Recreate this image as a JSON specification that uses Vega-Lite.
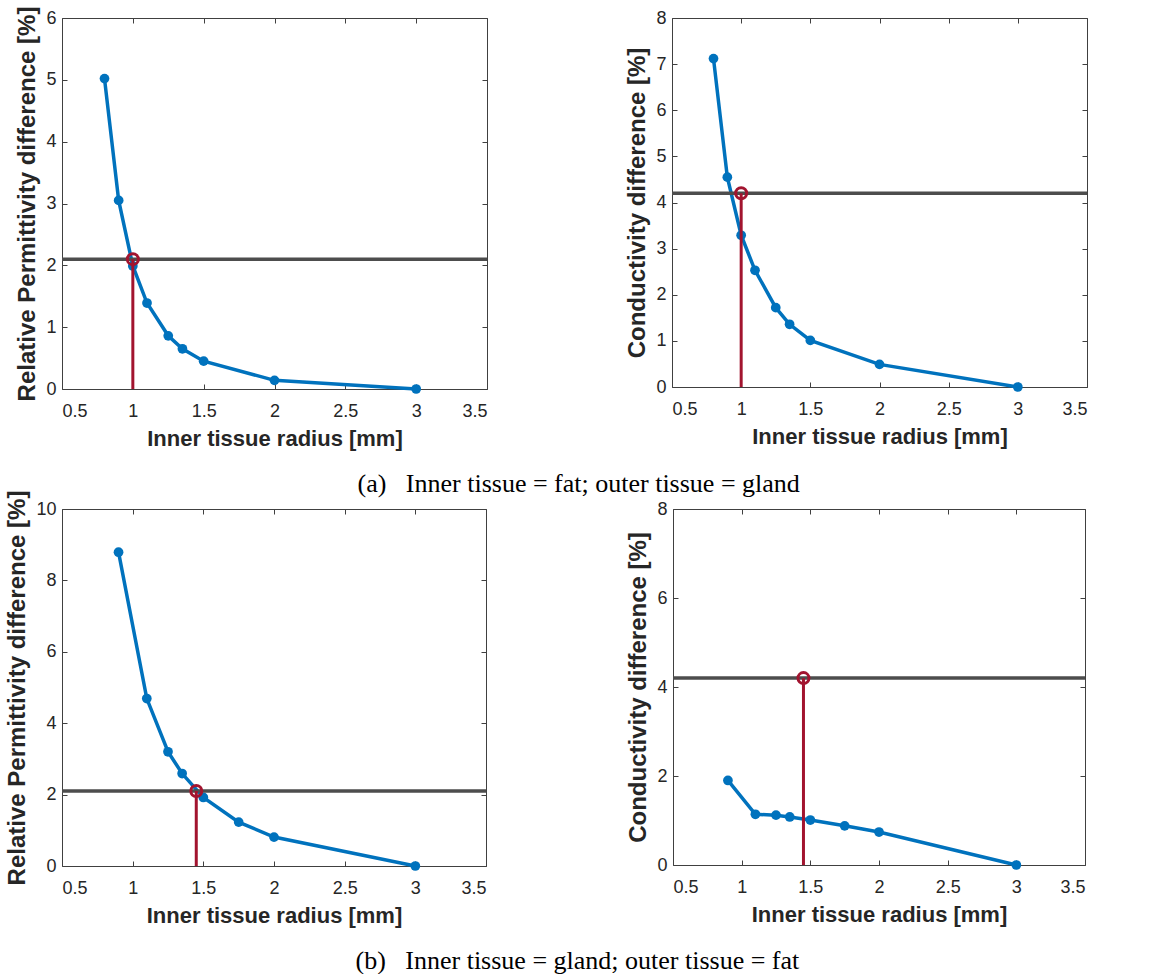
{
  "$schema": "https://vega.github.io/schema/vega-lite/v6.json",
  "background": "white",
  "padding": {"left": 5, "top": 5, "right": 0, "bottom": 0},
  "columns": 1,
  "align": "none",
  "spacing": -8,
  "datasets": {
    "a_perm": [
      {"radius": 0.8, "diff": 5.02}, {"radius": 0.9, "diff": 3.05}, {"radius": 1.0, "diff": 1.99},
      {"radius": 1.1, "diff": 1.39}, {"radius": 1.25, "diff": 0.86}, {"radius": 1.35, "diff": 0.65},
      {"radius": 1.5, "diff": 0.45}, {"radius": 2.0, "diff": 0.14}, {"radius": 3.0, "diff": 0.0}
    ],
    "a_cond": [
      {"radius": 0.8, "diff": 7.12}, {"radius": 0.9, "diff": 4.55}, {"radius": 1.0, "diff": 3.29},
      {"radius": 1.1, "diff": 2.53}, {"radius": 1.25, "diff": 1.72}, {"radius": 1.35, "diff": 1.36},
      {"radius": 1.5, "diff": 1.01}, {"radius": 2.0, "diff": 0.49}, {"radius": 3.0, "diff": 0.0}
    ],
    "b_perm": [
      {"radius": 0.9, "diff": 8.79}, {"radius": 1.1, "diff": 4.69}, {"radius": 1.25, "diff": 3.2},
      {"radius": 1.35, "diff": 2.59}, {"radius": 1.5, "diff": 1.92}, {"radius": 1.75, "diff": 1.23},
      {"radius": 2.0, "diff": 0.81}, {"radius": 3.0, "diff": 0.0}
    ],
    "b_cond": [
      {"radius": 0.9, "diff": 1.9}, {"radius": 1.1, "diff": 1.14}, {"radius": 1.25, "diff": 1.12},
      {"radius": 1.35, "diff": 1.08}, {"radius": 1.5, "diff": 1.01}, {"radius": 1.75, "diff": 0.88},
      {"radius": 2.0, "diff": 0.74}, {"radius": 3.0, "diff": 0.0}
    ],
    "a_perm_cut": [{"radius": 1.0, "low": 0, "threshold": 2.1}],
    "a_cond_cut": [{"radius": 1.0, "low": 0, "threshold": 4.2}],
    "b_perm_cut": [{"radius": 1.45, "low": 0, "threshold": 2.1}],
    "b_cond_cut": [{"radius": 1.45, "low": 0, "threshold": 4.2}]
  },
  "concat": [
    {
      "title": {"text": "(a)\u00a0\u00a0\u00a0Inner tissue = fat; outer tissue = gland", "orient": "bottom", "anchor": "start", "dx": 342},
      "spacing": 135,
      "hconcat": [
        {
          "width": 425, "height": 371,
          "layer": [
            {"data": {"name": "a_perm"}, "mark": {"type": "line", "color": "#0072BD", "strokeWidth": 3.5, "point": {"filled": true, "size": 95, "color": "#0072BD"}},
             "encoding": {
               "x": {"field": "radius", "type": "quantitative", "scale": {"domain": [0.5, 3.5], "nice": false, "zero": false}, "axis": {"values": [0.5,1,1.5,2,2.5,3,3.5], "format": "~g", "title": "Inner tissue radius [mm]"}},
               "y": {"field": "diff", "type": "quantitative", "scale": {"domain": [0, 6], "nice": false}, "axis": {"values": [0,1,2,3,4,5,6], "format": "d", "title": "Relative Permittivity difference [%]"}}}},
            {"data": {"name": "a_perm_cut"}, "mark": {"type": "rule", "color": "#4D4D4D", "strokeWidth": 3.5},
             "encoding": {"y": {"field": "threshold", "type": "quantitative", "scale": {"domain": [0, 6], "nice": false}, "axis": {"orient": "right", "labels": false, "title": null, "values": [0,1,2,3,4,5,6]}}}},
            {"data": {"name": "a_perm_cut"}, "mark": {"type": "rule", "color": "#A2142F", "strokeWidth": 3},
             "encoding": {"x": {"field": "radius", "type": "quantitative", "scale": {"domain": [0.5, 3.5], "nice": false, "zero": false}, "axis": null}, "y": {"field": "low", "type": "quantitative", "scale": {"domain": [0, 6], "nice": false}, "axis": null}, "y2": {"field": "threshold"}}},
            {"data": {"name": "a_perm_cut"}, "mark": {"type": "point", "filled": false, "color": "#A2142F", "strokeWidth": 3, "size": 120, "opacity": 1},
             "encoding": {"x": {"field": "radius", "type": "quantitative", "scale": {"domain": [0.5, 3.5], "nice": false, "zero": false}, "axis": {"orient": "top", "labels": false, "title": null, "values": [0.5,1,1.5,2,2.5,3,3.5]}}, "y": {"field": "threshold", "type": "quantitative", "scale": {"domain": [0, 6], "nice": false}, "axis": null}}}
          ],
          "resolve": {"axis": {"x": "independent", "y": "independent"}}
        },
        {
          "width": 415, "height": 369,
          "layer": [
            {"data": {"name": "a_cond"}, "mark": {"type": "line", "color": "#0072BD", "strokeWidth": 3.5, "point": {"filled": true, "size": 95, "color": "#0072BD"}},
             "encoding": {
               "x": {"field": "radius", "type": "quantitative", "scale": {"domain": [0.5, 3.5], "nice": false, "zero": false}, "axis": {"values": [0.5,1,1.5,2,2.5,3,3.5], "format": "~g", "title": "Inner tissue radius [mm]"}},
               "y": {"field": "diff", "type": "quantitative", "scale": {"domain": [0, 8], "nice": false}, "axis": {"values": [0,1,2,3,4,5,6,7,8], "format": "d", "title": "Conductivity difference [%]"}}}},
            {"data": {"name": "a_cond_cut"}, "mark": {"type": "rule", "color": "#4D4D4D", "strokeWidth": 3.5},
             "encoding": {"y": {"field": "threshold", "type": "quantitative", "scale": {"domain": [0, 8], "nice": false}, "axis": {"orient": "right", "labels": false, "title": null, "values": [0,1,2,3,4,5,6,7,8]}}}},
            {"data": {"name": "a_cond_cut"}, "mark": {"type": "rule", "color": "#A2142F", "strokeWidth": 3},
             "encoding": {"x": {"field": "radius", "type": "quantitative", "scale": {"domain": [0.5, 3.5], "nice": false, "zero": false}, "axis": null}, "y": {"field": "low", "type": "quantitative", "scale": {"domain": [0, 8], "nice": false}, "axis": null}, "y2": {"field": "threshold"}}},
            {"data": {"name": "a_cond_cut"}, "mark": {"type": "point", "filled": false, "color": "#A2142F", "strokeWidth": 3, "size": 120, "opacity": 1},
             "encoding": {"x": {"field": "radius", "type": "quantitative", "scale": {"domain": [0.5, 3.5], "nice": false, "zero": false}, "axis": {"orient": "top", "labels": false, "title": null, "values": [0.5,1,1.5,2,2.5,3,3.5]}}, "y": {"field": "threshold", "type": "quantitative", "scale": {"domain": [0, 8], "nice": false}, "axis": null}}}
          ],
          "resolve": {"axis": {"x": "independent", "y": "independent"}}
        }
      ]
    },
    {
      "title": {"text": "(b)\u00a0\u00a0\u00a0Inner tissue = gland; outer tissue = fat", "orient": "bottom", "anchor": "start", "dx": 350},
      "spacing": 137,
      "hconcat": [
        {
          "width": 424, "height": 357,
          "layer": [
            {"data": {"name": "b_perm"}, "mark": {"type": "line", "color": "#0072BD", "strokeWidth": 3.5, "point": {"filled": true, "size": 95, "color": "#0072BD"}},
             "encoding": {
               "x": {"field": "radius", "type": "quantitative", "scale": {"domain": [0.5, 3.5], "nice": false, "zero": false}, "axis": {"values": [0.5,1,1.5,2,2.5,3,3.5], "format": "~g", "title": "Inner tissue radius [mm]"}},
               "y": {"field": "diff", "type": "quantitative", "scale": {"domain": [0, 10], "nice": false}, "axis": {"values": [0,2,4,6,8,10], "format": "d", "title": "Relative Permittivity difference [%]"}}}},
            {"data": {"name": "b_perm_cut"}, "mark": {"type": "rule", "color": "#4D4D4D", "strokeWidth": 3.5},
             "encoding": {"y": {"field": "threshold", "type": "quantitative", "scale": {"domain": [0, 10], "nice": false}, "axis": {"orient": "right", "labels": false, "title": null, "values": [0,2,4,6,8,10]}}}},
            {"data": {"name": "b_perm_cut"}, "mark": {"type": "rule", "color": "#A2142F", "strokeWidth": 3},
             "encoding": {"x": {"field": "radius", "type": "quantitative", "scale": {"domain": [0.5, 3.5], "nice": false, "zero": false}, "axis": null}, "y": {"field": "low", "type": "quantitative", "scale": {"domain": [0, 10], "nice": false}, "axis": null}, "y2": {"field": "threshold"}}},
            {"data": {"name": "b_perm_cut"}, "mark": {"type": "point", "filled": false, "color": "#A2142F", "strokeWidth": 3, "size": 120, "opacity": 1},
             "encoding": {"x": {"field": "radius", "type": "quantitative", "scale": {"domain": [0.5, 3.5], "nice": false, "zero": false}, "axis": {"orient": "top", "labels": false, "title": null, "values": [0.5,1,1.5,2,2.5,3,3.5]}}, "y": {"field": "threshold", "type": "quantitative", "scale": {"domain": [0, 10], "nice": false}, "axis": null}}}
          ],
          "resolve": {"axis": {"x": "independent", "y": "independent"}}
        },
        {
          "width": 412, "height": 356,
          "layer": [
            {"data": {"name": "b_cond"}, "mark": {"type": "line", "color": "#0072BD", "strokeWidth": 3.5, "point": {"filled": true, "size": 95, "color": "#0072BD"}},
             "encoding": {
               "x": {"field": "radius", "type": "quantitative", "scale": {"domain": [0.5, 3.5], "nice": false, "zero": false}, "axis": {"values": [0.5,1,1.5,2,2.5,3,3.5], "format": "~g", "title": "Inner tissue radius [mm]"}},
               "y": {"field": "diff", "type": "quantitative", "scale": {"domain": [0, 8], "nice": false}, "axis": {"values": [0,2,4,6,8], "format": "d", "title": "Conductivity difference [%]"}}}},
            {"data": {"name": "b_cond_cut"}, "mark": {"type": "rule", "color": "#4D4D4D", "strokeWidth": 3.5},
             "encoding": {"y": {"field": "threshold", "type": "quantitative", "scale": {"domain": [0, 8], "nice": false}, "axis": {"orient": "right", "labels": false, "title": null, "values": [0,2,4,6,8]}}}},
            {"data": {"name": "b_cond_cut"}, "mark": {"type": "rule", "color": "#A2142F", "strokeWidth": 3},
             "encoding": {"x": {"field": "radius", "type": "quantitative", "scale": {"domain": [0.5, 3.5], "nice": false, "zero": false}, "axis": null}, "y": {"field": "low", "type": "quantitative", "scale": {"domain": [0, 8], "nice": false}, "axis": null}, "y2": {"field": "threshold"}}},
            {"data": {"name": "b_cond_cut"}, "mark": {"type": "point", "filled": false, "color": "#A2142F", "strokeWidth": 3, "size": 120, "opacity": 1},
             "encoding": {"x": {"field": "radius", "type": "quantitative", "scale": {"domain": [0.5, 3.5], "nice": false, "zero": false}, "axis": {"orient": "top", "labels": false, "title": null, "values": [0.5,1,1.5,2,2.5,3,3.5]}}, "y": {"field": "threshold", "type": "quantitative", "scale": {"domain": [0, 8], "nice": false}, "axis": null}}}
          ],
          "resolve": {"axis": {"x": "independent", "y": "independent"}}
        }
      ]
    }
  ],
  "config": {
    "view": {"stroke": "#404040", "strokeWidth": 1},
    "axis": {
      "domain": false, "grid": false,
      "tickColor": "#404040", "tickSize": -5, "tickWidth": 1,
      "labelFont": "Liberation Sans", "labelFontSize": 18, "labelColor": "#262626",
      "titleFont": "Liberation Sans", "titleFontWeight": "bold", "titleColor": "#262626"
    },
    "axisX": {"labelPadding": 18, "titleFontSize": 22, "titlePadding": 8},
    "axisY": {"labelPadding": 11, "titleFontSize": 24, "titlePadding": 6},
    "title": {"font": "Liberation Serif", "fontSize": 26, "fontWeight": "normal", "color": "#000000", "offset": 21}
  }
}
